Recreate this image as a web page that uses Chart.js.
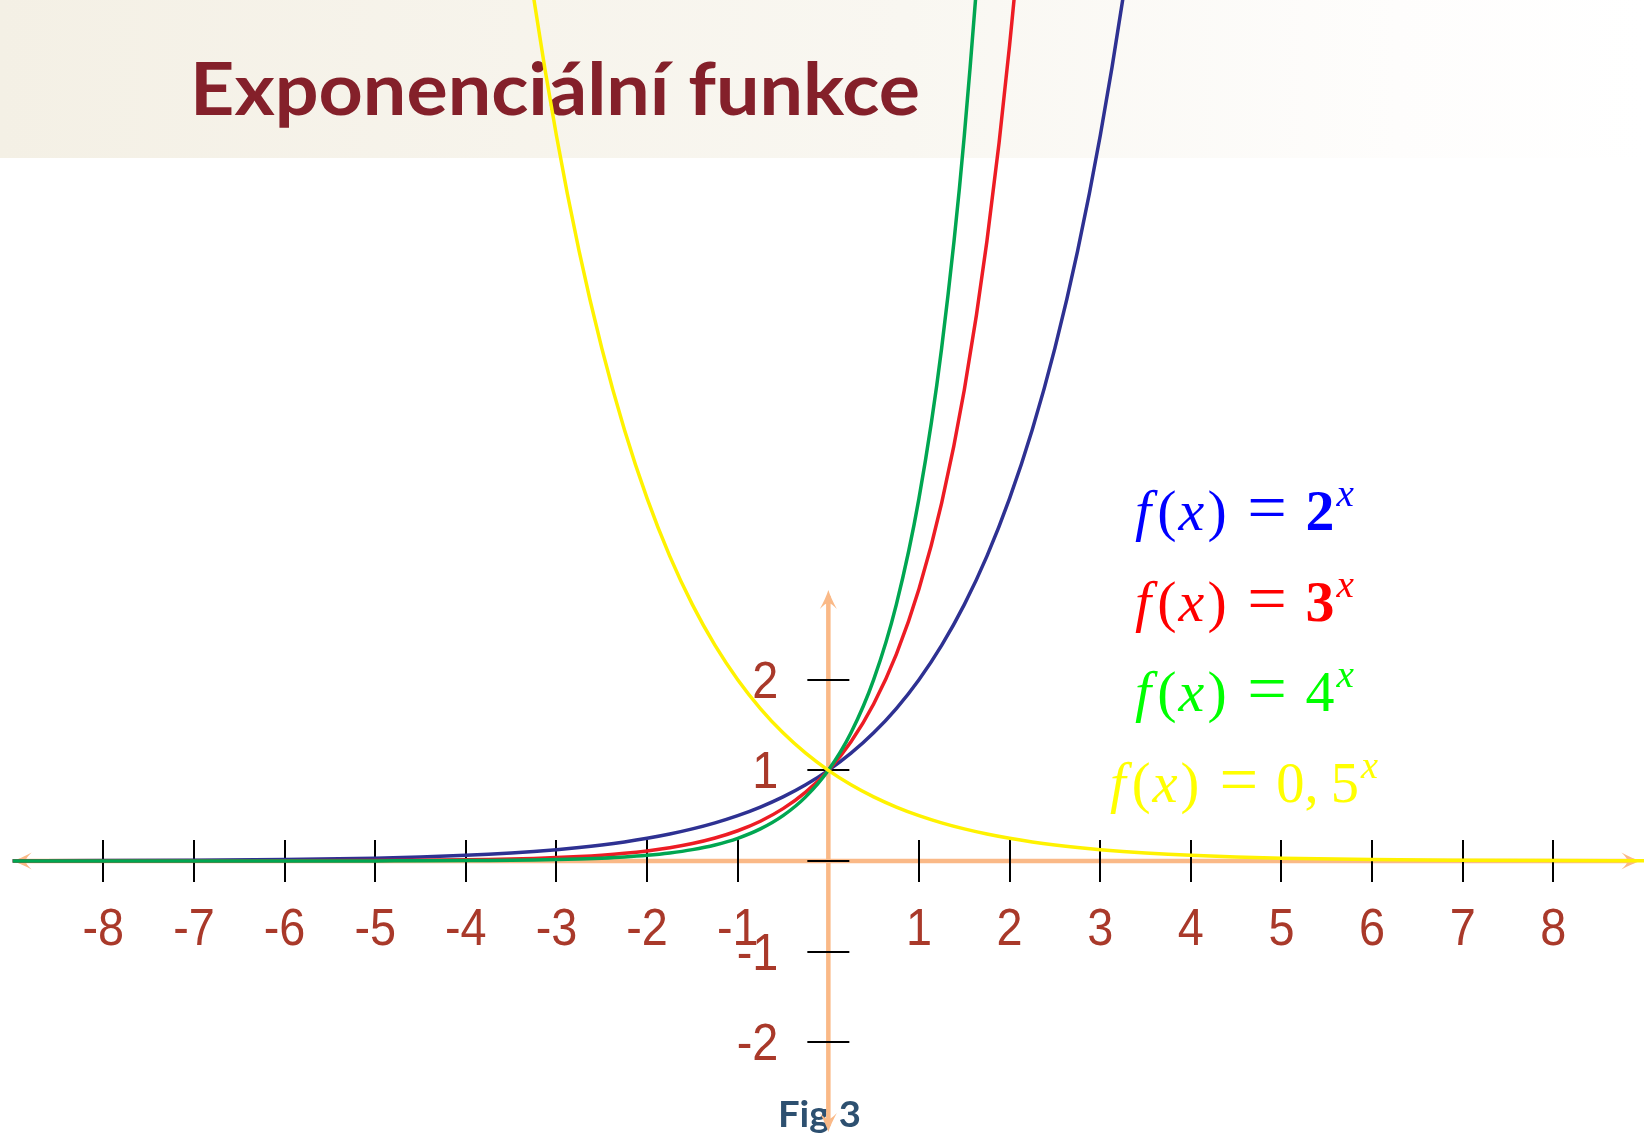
<!DOCTYPE html>
<html>
<head>
<meta charset="utf-8">
<script src="https://cdn.jsdelivr.net/npm/chart.js@4.4.1/dist/chart.umd.min.js"></script>
<style>
  html, body { margin: 0; padding: 0; background: #ffffff; }
  #c { display: block; }
</style>
</head>
<body>
<canvas id="c" width="1644" height="1136"></canvas>
<script>
// ---- Data ----
const xValues = [-9,-8,-7,-6,-5,-4.5,-4,-3.75,-3.5,-3.25,-3,-2.75,-2.5,-2.25,-2,-1.75,-1.5,-1.25,-1,-0.75,-0.5,-0.25,0,0.25,0.5,0.75,1,1.25,1.5,1.75,2,2.25,2.5,2.75,3,3.25,3.5,3.75,4,4.5,5,6,7,8,9];

const pow2 = [0.002,0.0039,0.0078,0.0156,0.0313,0.0442,0.0625,0.0743,0.0884,0.1051,0.125,0.1487,0.1768,0.2102,0.25,0.2973,0.3536,0.4204,0.5,0.5946,0.7071,0.8409,1,1.1892,1.4142,1.6818,2,2.3784,2.8284,3.3636,4,4.7568,5.6569,6.7272,8,9.5137,11.3137,13.4543,16,null,null,null,null,null,null];

const pow3 = [0.0001,0.0002,0.0005,0.0014,0.0041,0.0071,0.0123,0.0162,0.0214,0.0282,0.037,0.0488,0.0642,0.0844,0.1111,0.1462,0.1925,0.2533,0.3333,0.4387,0.5774,0.7598,1,1.3161,1.7321,2.2795,3,3.948,5.1962,6.8385,9,11.8446,15.5885,null,null,null,null,null,null,null,null,null,null,null,null];

const pow4 = [0.00001,0.00002,0.00006,0.0002,0.001,0.002,0.0039,0.0055,0.0078,0.011,0.0156,0.0221,0.0313,0.0442,0.0625,0.0884,0.125,0.1768,0.25,0.3536,0.5,0.7071,1,1.4142,2,2.8284,4,5.6569,8,11.3137,16,null,null,null,null,null,null,null,null,null,null,null,null,null,null];

const pow05 = [null,null,null,null,null,null,16,13.4543,11.3137,9.5137,8,6.7272,5.6569,4.7568,4,3.3636,2.8284,2.3784,2,1.6818,1.4142,1.1892,1,0.8409,0.7071,0.5946,0.5,0.4204,0.3536,0.2973,0.25,0.2102,0.1768,0.1487,0.125,0.1051,0.0884,0.0743,0.0625,0.0442,0.0313,0.0156,0.0078,0.0039,0.002];

const xTickValues = [-8,-7,-6,-5,-4,-3,-2,-1,1,2,3,4,5,6,7,8];
const xTickLabels = ['-8','-7','-6','-5','-4','-3','-2','-1','1','2','3','4','5','6','7','8'];
const yTickValues = [-2,-1,0,1,2];
const yTickLabels = ['-2','-1','','1','2'];

const titleText = 'Exponenciální funkce';
const captionText = 'Fig 3';
const legendBases = ['2','3','4','0,5'];

// ---- Styling ----
const curveColors = ['#2E3192', '#ED1C24', '#00A651', '#FFF200'];
const legendColors = ['#0000FF', '#FF0000', '#00FF00', '#FFFF00'];
const axisColor = '#FAB987';
const labelColor = '#A9392A';

function toPoints(ys) {
  return xValues.map((x, i) => ({ x: x, y: ys[i] }));
}

function fitText(ctx, text, font, x0, x1, baseline, color) {
  ctx.save();
  ctx.font = font;
  ctx.fillStyle = color;
  ctx.textAlign = 'left';
  ctx.textBaseline = 'alphabetic';
  const w = ctx.measureText(text).width;
  const sx = (x1 - x0) / w;
  ctx.translate(x0, baseline);
  ctx.scale(sx, 1);
  ctx.fillText(text, 0, 0);
  ctx.restore();
}

function drawLabel(ctx, text, x, baseline, align) {
  const sx = 0.9;
  ctx.save();
  ctx.font = '52px "Liberation Sans", Arial, sans-serif';
  ctx.fillStyle = labelColor;
  ctx.textBaseline = 'alphabetic';
  const w = ctx.measureText(text).width * sx;
  let left = x - w / 2;
  if (align === 'right') left = x - w;
  ctx.translate(left, baseline);
  ctx.scale(sx, 1);
  ctx.textAlign = 'left';
  ctx.fillText(text, 0, 0);
  ctx.restore();
}

function drawArrow(ctx, tipX, tipY, angle) {
  ctx.save();
  ctx.translate(tipX, tipY);
  ctx.rotate(angle);
  ctx.fillStyle = axisColor;
  ctx.beginPath();
  ctx.moveTo(0, 0);
  ctx.quadraticCurveTo(-8, -2.5, -19, -8.5);
  ctx.quadraticCurveTo(-13, -3, -13, 0);
  ctx.quadraticCurveTo(-13, 3, -19, 8.5);
  ctx.quadraticCurveTo(-8, 2.5, 0, 0);
  ctx.closePath();
  ctx.fill();
  ctx.restore();
}

function drawFormula(ctx, base, color, x0, x1, baseline) {
  const size = 56;
  const ital = 'italic ' + size + 'px "Liberation Serif", "Times New Roman", serif';
  const rom = size + 'px "Liberation Serif", "Times New Roman", serif';
  const bold = 'bold ' + size + 'px "Liberation Serif", "Times New Roman", serif';
  const sup = 'italic 38px "Liberation Serif", "Times New Roman", serif';
  const eq = '68px "Liberation Serif", "Times New Roman", serif';
  const baseFont = (base === '2' || base === '3') ? bold : rom;
  const runs = [
    { t: 'f', f: ital, gap: 6 },
    { t: '(', f: rom, gap: 2 },
    { t: 'x', f: ital, gap: 3 },
    { t: ')', f: rom, gap: 20 },
    { t: '=', f: eq, gap: 18 }
  ];
  if (base === '0,5') {
    runs.push({ t: '0', f: baseFont, gap: 0 });
    runs.push({ t: ',', f: baseFont, gap: 12 });
    runs.push({ t: '5', f: baseFont, gap: 2 });
  } else {
    runs.push({ t: base, f: baseFont, gap: 2 });
  }
  runs.push({ t: 'x', f: sup, gap: 0, dy: -24 });
  ctx.save();
  ctx.textBaseline = 'alphabetic';
  ctx.textAlign = 'left';
  let total = 0;
  runs.forEach(r => { ctx.font = r.f; r.w = ctx.measureText(r.t).width; total += r.w + r.gap; });
  total -= runs[runs.length - 1].gap;
  const sx = (x1 - x0) / total;
  ctx.translate(x0, baseline);
  ctx.scale(sx, 1);
  ctx.fillStyle = color;
  let cx = 0;
  runs.forEach(r => {
    ctx.font = r.f;
    ctx.fillText(r.t, cx, r.dy || 0);
    cx += r.w + r.gap;
  });
  ctx.restore();
}

const deco = {
  id: 'deco',
  beforeDraw(chart) {
    const ctx = chart.ctx;
    const W = chart.width;
    const g = ctx.createLinearGradient(0, 0, W, 0);
    g.addColorStop(0, '#F4F0E5');
    g.addColorStop(0.55, '#F9F7F1');
    g.addColorStop(0.85, '#FEFDFC');
    g.addColorStop(1, '#FFFFFF');
    ctx.save();
    ctx.fillStyle = g;
    ctx.fillRect(0, 0, W, 158);
    ctx.restore();
    fitText(ctx, titleText, 'bold 72px Lato, "Open Sans", sans-serif', 190, 920, 115, '#84202A');
    fitText(ctx, captionText, 'bold 36px Lato, "Open Sans", sans-serif', 778, 861, 1127, '#2D5070');
  },
  beforeDatasetsDraw(chart) {
    const ctx = chart.ctx;
    const xs = chart.scales.x, ys = chart.scales.y;
    const ox = xs.getPixelForValue(0), oy = ys.getPixelForValue(0);
    const xl = xs.getPixelForValue(-9), xr = xs.getPixelForValue(8.96);
    const yt = ys.getPixelForValue(2.99), yb = ys.getPixelForValue(-2.99);
    ctx.save();
    ctx.strokeStyle = axisColor;
    ctx.lineWidth = 4.5;
    ctx.beginPath();
    ctx.moveTo(xl + 6, oy); ctx.lineTo(xr - 6, oy);
    ctx.moveTo(ox, yt + 6); ctx.lineTo(ox, yb - 6);
    ctx.stroke();
    ctx.restore();
    drawArrow(ctx, xl, oy, Math.PI);
    drawArrow(ctx, xr, oy, 0);
    drawArrow(ctx, ox, yt, -Math.PI / 2);
    drawArrow(ctx, ox, yb, Math.PI / 2);
    ctx.save();
    ctx.strokeStyle = '#000000';
    ctx.lineWidth = 2;
    ctx.beginPath();
    xTickValues.forEach(v => {
      const px = Math.round(xs.getPixelForValue(v));
      ctx.moveTo(px, oy - 21); ctx.lineTo(px, oy + 21);
    });
    yTickValues.forEach(v => {
      const py = Math.round(ys.getPixelForValue(v));
      ctx.moveTo(ox - 21, py); ctx.lineTo(ox + 21, py);
    });
    ctx.stroke();
    ctx.restore();
    xTickValues.forEach((v, i) => {
      drawLabel(ctx, xTickLabels[i], xs.getPixelForValue(v), oy + 84, 'center');
    });
    yTickValues.forEach((v, i) => {
      if (yTickLabels[i]) drawLabel(ctx, yTickLabels[i], ox - 50, ys.getPixelForValue(v) + 18, 'right');
    });
  },
  afterDatasetsDraw(chart) {
    const ctx = chart.ctx;
    drawFormula(ctx, legendBases[0], legendColors[0], 1135, 1354, 530);
    drawFormula(ctx, legendBases[1], legendColors[1], 1135, 1354, 621);
    drawFormula(ctx, legendBases[2], legendColors[2], 1135, 1354, 711);
    drawFormula(ctx, legendBases[3], legendColors[3], 1110, 1378, 802);
  }
};

function ds(label, ys, color, order) {
  return {
    label: label,
    data: toPoints(ys),
    borderColor: color,
    backgroundColor: color,
    borderWidth: 3.5,
    pointRadius: 0,
    pointHoverRadius: 0,
    fill: false,
    cubicInterpolationMode: 'monotone',
    spanGaps: false,
    order: order
  };
}

new Chart(document.getElementById('c'), {
  type: 'line',
  data: {
    datasets: [
      ds('2^x', pow2, curveColors[0], 3),
      ds('3^x', pow3, curveColors[1], 2),
      ds('4^x', pow4, curveColors[2], 1),
      ds('0,5^x', pow05, curveColors[3], 0)
    ]
  },
  options: {
    responsive: false,
    devicePixelRatio: 1,
    animation: false,
    events: [],
    layout: { padding: 0 },
    plugins: { legend: { display: false }, tooltip: { enabled: false }, title: { display: false } },
    scales: {
      x: { type: 'linear', min: -9.14, max: 9.0, display: false },
      y: { type: 'linear', min: -3.034, max: 9.498, display: false }
    }
  },
  plugins: [deco]
});
</script>
</body>
</html>
